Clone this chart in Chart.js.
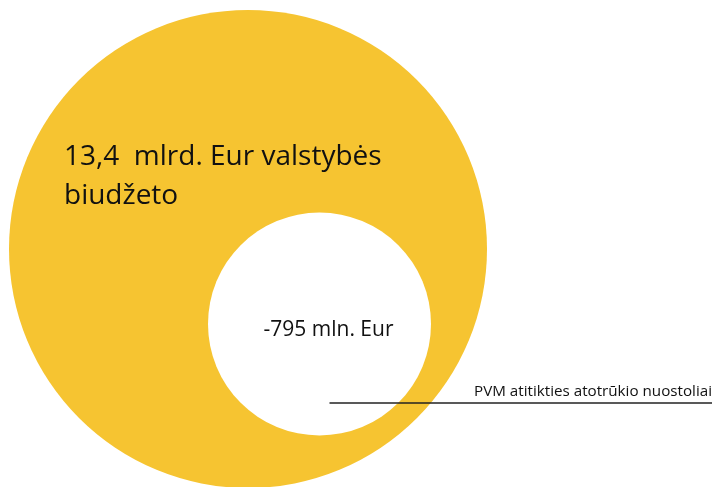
<!DOCTYPE html>
<html lang="lt">
<head>
<meta charset="UTF-8">
<title>PVM atitikties atotrūkis</title>
<script src="https://cdn.jsdelivr.net/npm/chart.js"></script>
<style>
  html, body { margin: 0; padding: 0; background: #fff; }
  #wrap { width: 722px; height: 487px; }
</style>
</head>
<body>
<div id="wrap"><canvas id="chart"></canvas></div>
<script>
  // values (mln. Eur) and their captions
  const labels = [['13,4  mlrd. Eur valstybės', 'biudžeto'], ['-795 mln. Eur']];
  const amounts = [13400, -795];
  const gapLabel = 'PVM atitikties atotrūkio nuostoliai';
  const colors = ['#F6C431', '#FFFFFF'];

  // where each circle sits, in the hidden axes' units (same as canvas px here)
  const layout = [
    { x: 248, y: 249, r: 239 },
    { x: 319.5, y: 324, r: 111.5 }
  ];

  const textPlugin = {
    id: 'circleText',
    afterDatasetsDraw(chart) {
      const ctx = chart.ctx;
      const pts = chart.getDatasetMeta(0).data;
      const big = pts[0], small = pts[1];
      ctx.save();
      ctx.fillStyle = '#111';
      ctx.textBaseline = 'alphabetic';

      ctx.font = '28px "Open Sans"';
      ctx.textAlign = 'left';
      labels[0].forEach((line, i) => ctx.fillText(line, big.x - 184, big.y - 84 + i * 39));

      ctx.font = '21px "Open Sans"';
      ctx.textAlign = 'center';
      labels[1].forEach((line, i) => ctx.fillText(line, small.x + 9, small.y + 12 + i * 24));

      // leader line + caption
      const ly = small.y + 79;
      const rx = chart.width - 10;
      ctx.strokeStyle = '#222';
      ctx.lineWidth = 1.5;
      ctx.beginPath();
      ctx.moveTo(small.x + 10, ly);
      ctx.lineTo(rx, ly);
      ctx.stroke();

      ctx.font = '15.2px "Open Sans"';
      ctx.textAlign = 'right';
      ctx.fillText(gapLabel, rx, ly - 7);
      ctx.restore();
    }
  };

  new Chart(document.getElementById('chart'), {
    type: 'bubble',
    data: {
      labels: labels.map(l => l.join(' ')),
      datasets: [{
        data: amounts.map((v, i) => ({ x: layout[i].x, y: layout[i].y, r: layout[i].r, value: v })),
        backgroundColor: colors,
        borderWidth: 0,
        hoverRadius: 0,
        clip: false
      }]
    },
    options: {
      responsive: true,
      maintainAspectRatio: false,
      animation: false,
      events: [],
      layout: { padding: 0, autoPadding: false },
      plugins: { legend: { display: false }, tooltip: { enabled: false } },
      scales: {
        x: { display: false, min: 0, max: 722 },
        y: { display: false, min: 0, max: 487, reverse: true }
      }
    },
    plugins: [textPlugin]
  });
</script>
</body>
</html>
